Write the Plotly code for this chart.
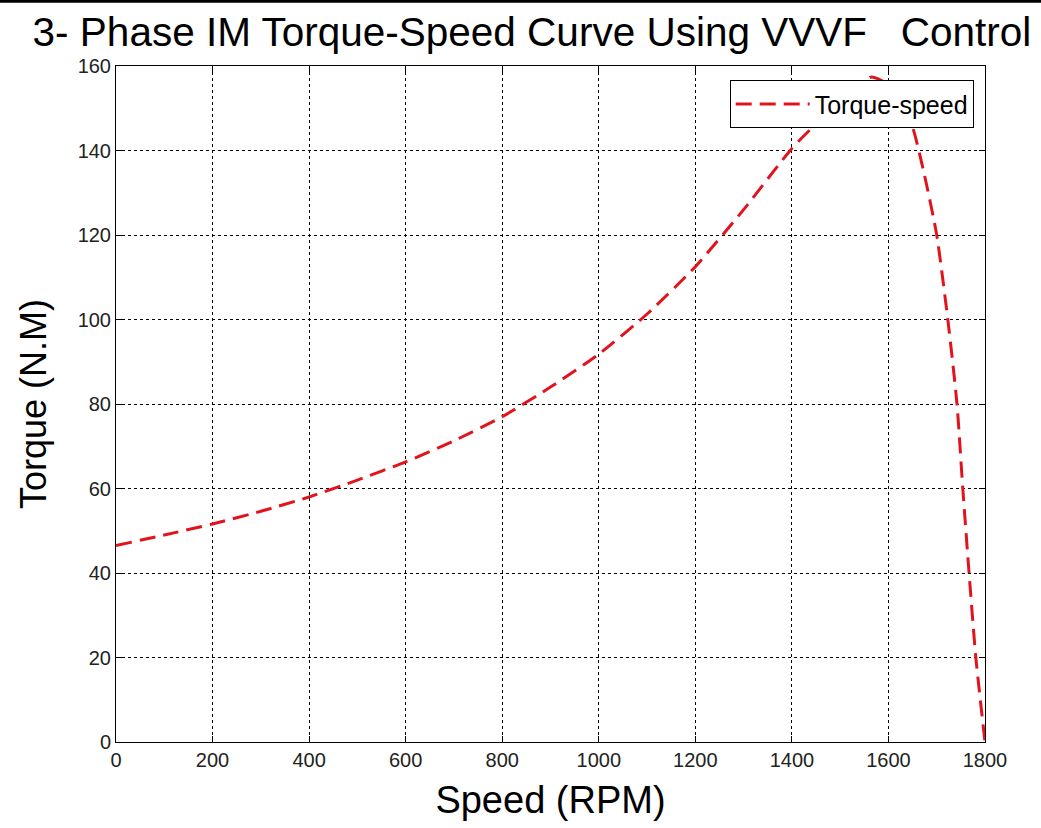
import plotly.graph_objects as go

speed = [0, 100, 200, 300, 400, 500, 600, 700, 800, 900, 1000, 1100, 1200, 1300,
         1400, 1450, 1500, 1540, 1565, 1590, 1620, 1650, 1675, 1700, 1723, 1742,
         1754, 1767, 1781, 1800]
torque = [46.5, 49.0, 51.6, 54.6, 58.0, 62.0, 66.3, 71.3, 77.0, 84.0, 91.8, 101.3, 112.5, 126.0,
          140.5, 146.3, 151.8, 155.5, 157.4, 156.3, 152.5, 145.5, 134.0, 120.0, 100.0, 80.0,
          60.0, 40.0, 20.0, 0.0]

x_ticks = [0, 200, 400, 600, 800, 1000, 1200, 1400, 1600, 1800]
y_ticks = [0, 20, 40, 60, 80, 100, 120, 140, 160]

fig = go.Figure()
fig.add_trace(go.Scatter(
    x=speed, y=torque, mode="lines", name="Torque-speed",
    line=dict(color="rgb(225,20,30)", width=3, dash="16px,8px", shape="spline", smoothing=0.6),
))

axis_common = dict(
    showline=True, linecolor="black", linewidth=1, mirror="ticks",
    ticks="inside", ticklen=6, tickcolor="black",
    showgrid=True, gridcolor="black", gridwidth=1, griddash="dot",
    zeroline=False,
    tickfont=dict(family="Liberation Sans", size=20, color="#222"),
)

fig.update_layout(
    width=1041, height=828,
    margin=dict(l=116, r=56, t=66, b=86),
    paper_bgcolor="white", plot_bgcolor="white",
    title=dict(text="3- Phase IM Torque-Speed Curve Using VVVF   Control",
               font=dict(family="Liberation Sans", size=40.5, color="black"),
               x=0.511, xanchor="center", y=0.962, yanchor="middle"),
    xaxis=dict(range=[0, 1800], tickvals=x_ticks,
               title=dict(text="Speed (RPM)", font=dict(family="Liberation Sans", size=38, color="black"), standoff=16),
               **axis_common),
    yaxis=dict(range=[0, 160], tickvals=y_ticks,
               title=dict(text="Torque (N.M)", font=dict(family="Liberation Sans", size=36, color="black"), standoff=20),
               **axis_common),
    showlegend=True,
    legend=dict(x=0.987, xanchor="right", y=0.979, yanchor="top",
                bgcolor="white", bordercolor="black", borderwidth=1,
                itemwidth=74,
                font=dict(family="Liberation Sans", size=25, color="black")),
)

fig.add_shape(type="rect", xref="paper", yref="paper",
              x0=-0.2, x1=1.1, y0=1.0935, y1=1.2,
              fillcolor="black", line=dict(width=0), layer="above")

fig.write_html("out.html", config={"displayModeBar": False},
               post_script="document.body.style.margin='0px';")
